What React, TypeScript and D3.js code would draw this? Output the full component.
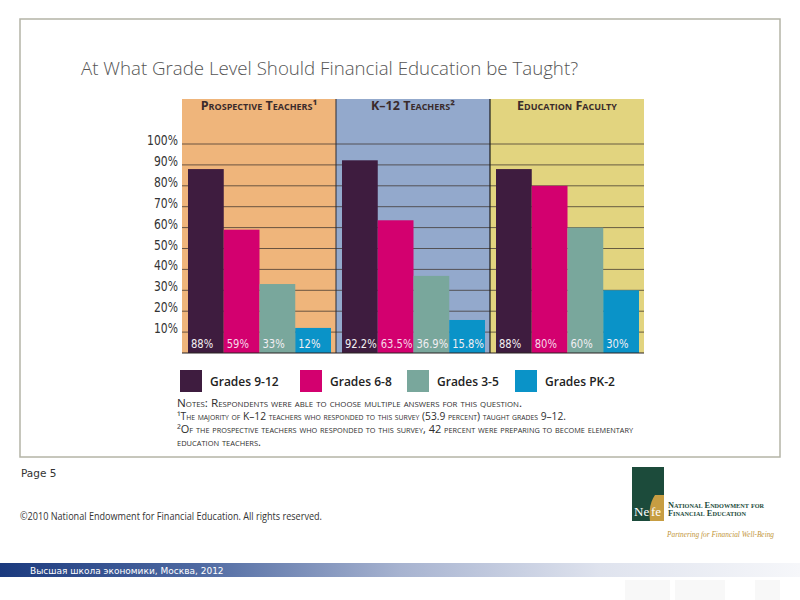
import React from "react";
import * as d3 from "d3";

const categories = ["Prospective Teachers¹", "K–12 Teachers²", "Education Faculty"];
const seriesNames = ["Grades 9-12", "Grades 6-8", "Grades 3-5", "Grades PK-2"];
const prospectiveValues = [88, 59, 33, 12];
const k12Values = [92.2, 63.5, 36.9, 15.8];
const facultyValues = [88, 80, 60, 30];
const valueLabels = [
  ["88%", "59%", "33%", "12%"],
  ["92.2%", "63.5%", "36.9%", "15.8%"],
  ["88%", "80%", "60%", "30%"],
];
const yTicks = [10, 20, 30, 40, 50, 60, 70, 80, 90, 100];

const panelColors = ["#efb57b", "#93a9cc", "#e2d47f"];
const seriesColors = ["#3e1c3f", "#d3006f", "#79a79c", "#0a93c8"];

const notes = [
  "Notes: Respondents were able to choose multiple answers for this question.",
  "¹The majority of K–12 teachers who responded to this survey (53.9 percent) taught grades 9–12.",
  "²Of the prospective teachers who responded to this survey, 42 percent were preparing to become elementary",
  "education teachers.",
];
const notesWidths = [345, 389, 456, 84];

const sans = "'DejaVu Sans',sans-serif";

export default function App() {
  const allValues = [prospectiveValues, k12Values, facultyValues];
  const y = d3.scaleLinear().domain([0, 100]).range([353, 144]);
  const x0 = d3.scaleBand<string>().domain(categories).range([182, 644]).paddingInner(0);
  const x1 = d3
    .scaleBand<string>()
    .domain(seriesNames)
    .range([6, x0.bandwidth() - 5])
    .paddingInner(0);

  const legendX = [180, 300, 407, 515];

  return (
    <svg
      width={800}
      height={600}
      style={{ position: "absolute", left: 0, top: 0, background: "#fff" }}
      xmlns="http://www.w3.org/2000/svg"
    >
      <defs>
        <linearGradient id="footGrad" x1="0" x2="1" y1="0" y2="0">
          <stop offset="0" stopColor="#1b3a7e" />
          <stop offset="0.25" stopColor="#4f6aa2" />
          <stop offset="0.5" stopColor="#a7b3d0" />
          <stop offset="0.75" stopColor="#dfe3ee" />
          <stop offset="1" stopColor="#f6f7fa" />
        </linearGradient>
      </defs>

      {/* faint watermark */}
      <g fill="#f8f8f8">
        <rect x={625} y={580} width={45} height={20} />
        <rect x={675} y={580} width={50} height={20} />
        <rect x={755} y={580} width={25} height={20} />
      </g>

      {/* outer box */}
      <rect x={20} y={19} width={760} height={438} fill="none" stroke="#b4b4a6" strokeWidth={1.5} />

      {/* title */}
      <text
        x={81}
        y={75}
        fontFamily="'Open Sans','Lato',sans-serif"
        fontSize={19}
        fontWeight={300}
        fill="#555"
        textLength={497}
        lengthAdjust="spacingAndGlyphs"
      >
        At What Grade Level Should Financial Education be Taught?
      </text>

      {/* panels */}
      {categories.map((c, i) => (
        <rect key={c} x={x0(c)} y={99} width={x0.bandwidth()} height={254} fill={panelColors[i]} />
      ))}

      {/* gridlines */}
      {yTicks.map((t) => (
        <line
          key={t}
          x1={182}
          x2={644}
          y1={y(t)}
          y2={y(t)}
          stroke="#3d342e"
          strokeOpacity={0.75}
          strokeWidth={1}
        />
      ))}

      {/* panel dividers */}
      <line x1={x0(categories[1])} x2={x0(categories[1])} y1={99} y2={353} stroke="#2b2b35" strokeWidth={1} />
      <line x1={x0(categories[2])} x2={x0(categories[2])} y1={99} y2={353} stroke="#1c1c1c" strokeWidth={1.2} />

      {/* headers */}
      {categories.map((c) => (
        <text
          key={c}
          x={(x0(c) as number) + x0.bandwidth() / 2}
          y={109.5}
          textAnchor="middle"
          fontFamily="'Open Sans',sans-serif"
          fontWeight={700}
          fontSize={12.5}
          fill="#3a2b2b"
          style={{ fontVariant: "small-caps" }}
        >
          {c}
        </text>
      ))}

      {/* bars */}
      {categories.map((c, i) => (
        <g key={c} transform={`translate(${x0(c)},0)`}>
          {seriesNames.map((s, j) => (
            <rect
              key={s}
              x={x1(s)}
              y={y(allValues[i][j])}
              width={x1.bandwidth()}
              height={y(0) - y(allValues[i][j])}
              fill={seriesColors[j]}
            />
          ))}
          {seriesNames.map((s, j) => (
            <text
              key={s + "l"}
              transform={`translate(${(x1(s) as number) + 3},348) scale(0.8,1)`}
              fontFamily={sans}
              fontSize={12.5}
              fill={j === 1 ? "#f6d9e8" : "#f2eef2"}
            >
              {valueLabels[i][j]}
            </text>
          ))}
        </g>
      ))}

      {/* baseline */}
      <line x1={182} x2={644} y1={y(0)} y2={y(0)} stroke="#2a2222" strokeWidth={1.2} />

      {/* y tick labels */}
      {yTicks.map((t) => (
        <text
          key={t}
          transform={`translate(178,${y(t) + 1}) scale(0.8,1)`}
          textAnchor="end"
          fontFamily={sans}
          fontSize={13.5}
          fill="#333"
        >
          {t}%
        </text>
      ))}

      {/* legend */}
      {seriesNames.map((s, j) => (
        <g key={s}>
          <rect x={legendX[j]} y={370} width={22} height={22} fill={seriesColors[j]} />
          <text
            x={legendX[j] + 30}
            y={386}
            fontFamily="'Open Sans',sans-serif"
            fontWeight={600}
            fontSize={12}
            fill="#222"
          >
            {s}
          </text>
        </g>
      ))}

      {/* notes */}
      {notes.map((n, i) => (
        <text
          key={i}
          x={177}
          y={407 + i * 13}
          fontFamily="'Open Sans',sans-serif"
          fontSize={10.5}
          fontWeight={500}
          fill="#2e2e2e"
          textLength={notesWidths[i]}
          lengthAdjust="spacingAndGlyphs"
          style={{ fontVariant: "small-caps" }}
        >
          {n}
        </text>
      ))}

      {/* page & copyright */}
      <text x={21} y={477} fontFamily="'DejaVu Sans',sans-serif" fontSize={10.5} fill="#333">
        Page 5
      </text>
      <text
        x={20}
        y={520}
        fontFamily="'Open Sans',sans-serif"
        fontSize={10}
        fill="#333"
        textLength={302}
        lengthAdjust="spacingAndGlyphs"
      >
        ©2010 National Endowment for Financial Education. All rights reserved.
      </text>

      {/* logo */}
      <g>
        <rect x={632} y={467} width={32} height={54} fill="#1c4b3b" />
        <path d="M664,495 L655,495 Q648,505 650,521 L664,521 Z" fill="#c79d42" />
        <text x={634} y={516} fontFamily="'Liberation Serif',serif" fontSize={13} fill="#fff">
          Ne
        </text>
        <text x={651} y={516} fontFamily="'Liberation Serif',serif" fontSize={13} fill="#fff">
          fe
        </text>
        <text
          x={668}
          y={508}
          fontFamily="'Liberation Serif',serif"
          fontWeight={700}
          fontSize={8}
          fill="#1c4b3b"
          style={{ fontVariant: "small-caps" }}
          textLength={96}
          lengthAdjust="spacingAndGlyphs"
        >
          National Endowment for
        </text>
        <text
          x={668}
          y={516}
          fontFamily="'Liberation Serif',serif"
          fontWeight={700}
          fontSize={8}
          fill="#1c4b3b"
          style={{ fontVariant: "small-caps" }}
          textLength={78}
          lengthAdjust="spacingAndGlyphs"
        >
          Financial Education
        </text>
        <text
          x={667}
          y={537}
          fontFamily="'Liberation Serif',serif"
          fontStyle="italic"
          fontSize={8}
          fill="#c2953a"
          textLength={107}
          lengthAdjust="spacingAndGlyphs"
        >
          Partnering for Financial Well-Being
        </text>
      </g>

      {/* footer band */}
      <rect x={0} y={563} width={800} height={14} fill="url(#footGrad)" />
      <text x={30} y={573.5} fontFamily="'DejaVu Sans',sans-serif" fontSize={9} fill="#fff">
        Высшая школа экономики, Москва, 2012
      </text>
    </svg>
  );
}
